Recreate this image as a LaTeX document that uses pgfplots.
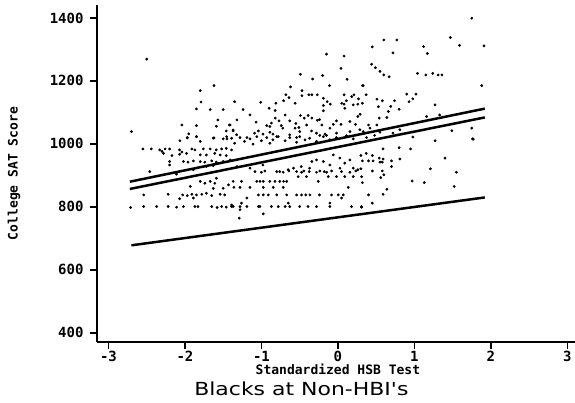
\documentclass[border=0pt]{standalone}
\usepackage{pgfplots}
\pgfplotsset{compat=1.18}
\usepackage{fontspec}
\setmainfont{DejaVu Sans}
\setmonofont{DejaVu Sans Mono}
\begin{document}
\begin{tikzpicture}
\begin{axis}[
  scale only axis, width=478pt, height=337pt,
  xmin=-3.15, xmax=3.10, ymin=371, ymax=1441,
  axis x line=bottom, axis y line=left,
  axis line style={line width=1.5pt, -},
  xtick={-3,-2,-1,0,1,2,3}, ytick={400,600,800,1000,1200,1400},
  tick align=outside, major tick length=7pt,
  tick style={line width=1.5pt, black},
  tick label style={font=\fontsize{14}{14}\selectfont\ttfamily\bfseries},
  /pgf/number format/assume math mode=true,
  /pgf/number format/1000 sep={},
  yticklabel style={xshift=-3pt},
  xticklabel style={yshift=1pt},
  xlabel={Standardized HSB Test},
  xlabel style={at={(axis description cs:0.504,-0.095)}, anchor=base, font=\fontsize{13}{13}\selectfont\ttfamily\bfseries},
  ylabel={College SAT Score},
  ylabel style={at={(axis description cs:-0.1736,0.5)}, anchor=center, font=\fontsize{13}{13}\selectfont\ttfamily\bfseries},
]
\addplot[only marks, mark=*, mark size=1.2pt, black] table {
x y
-2.50 1269
-2.70 1039
-1.62 1185
-1.80 1169
-1.79 1133
-1.85 1111
-1.67 1109
-1.50 1109
-1.57 1076
-2.04 1060
-1.85 1058
-1.59 1056
-1.42 1060
-1.46 1041
-1.37 1041
-1.95 1032
-1.85 1023
-1.97 1019
-1.62 1019
-1.45 1016
-0.15 1285
0.08 1279
0.04 1240
-0.49 1221
-0.33 1206
-0.20 1217
0.12 1205
-0.62 1181
-0.11 1185
0.33 1185
-0.47 1169
-0.68 1156
-0.47 1153
-0.38 1156
-0.34 1156
-0.27 1156
-0.64 1147
-0.56 1129
-0.71 1137
-0.19 1145
-0.14 1134
-0.10 1126
-0.19 1122
-0.19 1105
0.08 1156
0.18 1150
0.21 1156
0.27 1143
0.11 1137
0.08 1126
0.05 1129
0.09 1113
0.20 1124
0.26 1126
-1.35 1134
-1.24 1109
-1.01 1132
-0.90 1113
-0.81 1129
-0.82 1106
-0.49 1090
-0.44 1082
-0.39 1090
-0.34 1082
-0.27 1075
-0.24 1077
-1.07 1069
-0.82 1082
-0.77 1073
-0.87 1066
-0.89 1055
-0.93 1058
-0.74 1058
-0.72 1050
-0.55 1065
-0.51 1052
-0.56 1050
-0.06 1062
0.04 1062
0.23 1062
0.26 1087
0.29 1094
-1.41 1060
-1.37 1044
-1.04 1041
-1.09 1034
-0.98 1031
-0.89 1037
-0.85 1031
-0.80 1023
-0.345 1041
-0.28 1034
-0.236 1027
-0.17 1031
-0.15 1027
-1.325 1029
-1.19 1020
-0.63 1029
-0.54 1020
-0.50 1039
-0.018 1034
0.157 1039
0.287 1045
-1.15 1092
-1.32 1076
-0.69 1092
-0.63 1073
-0.41 1060
-0.21 1060
-0.105 1050
-0.018 1073
0.157 1071
1.75 1399
1.47 1338
1.59 1313
1.91 1311
0.60 1330
0.77 1330
0.45 1308
0.72 1289
1.12 1309
1.17 1287
0.44 1253
0.49 1242
0.55 1230
0.60 1219
0.67 1213
1.04 1224
1.15 1219
1.24 1224
1.31 1219
1.36 1219
1.88 1185
0.32 1185
0.37 1156
0.32 1129
0.51 1142
0.58 1137
0.53 1118
0.74 1137
0.69 1119
0.66 1103
0.80 1110
0.90 1158
1.02 1158
0.98 1143
0.93 1134
1.27 1124
1.16 1087
1.33 1092
0.54 1082
0.64 1084
0.40 1060
0.51 1060
1.49 1042
1.75 1050
0.98 1022
1.76 1016
0.33 1039
0.42 1050
0.375 1020
0.48 1027
0.72 1034
0.81 1045
0.55 1037
1.77 1015
1.27 1010
0.80 988
0.95 984
0.59 984
1.40 955
0.81 952
0.70 946
0.70 928
0.54 955
0.59 952
0.55 942
0.58 942
0.45 963
0.46 946
0.37 970
0.30 963
0.32 946
0.40 946
1.21 921
1.55 910
0.45 914
0.58 914
0.60 902
0.56 893
0.30 921
0.32 877
0.97 882
1.13 877
1.52 865
0.64 856
0.40 838
0.59 840
0.45 812
0.31 799
-2.065 1010
-1.97 1020
-1.85 1023
-1.80 1008
-1.63 1018
-1.50 1016
-1.455 1023
-2.55 984
-2.44 984
-2.33 981
-2.30 976
-2.26 984
-2.20 984
-2.07 981
-2.04 974
-1.91 984
-1.87 981
-1.76 984
-1.67 984
-1.59 981
-1.52 984
-1.46 986
-1.39 981
-2.28 970
-2.17 963
-2.07 967
-1.98 970
-1.80 965
-1.72 965
-1.61 970
-1.54 965
-1.46 963
-2.20 944
-2.02 944
-1.96 942
-1.89 946
-1.80 944
-1.74 942
-1.65 946
-1.59 942
-1.50 944
-1.41 949
-2.20 933
-1.72 928
-1.63 931
-2.46 912
-2.11 904
-1.89 918
-1.93 865
-1.80 881
-1.74 875
-1.67 881
-1.61 875
-1.59 891
-1.50 859
-1.63 859
-1.43 870
-2.54 838
-2.22 840
-2.03 838
-1.97 836
-1.91 840
-1.85 838
-1.78 840
-1.72 843
-1.65 836
-1.54 840
-1.48 838
-2.07 826
-1.89 828
-2.71 798
-2.54 801
-2.37 801
-2.22 801
-2.11 799
-2.02 801
-1.87 801
-1.83 801
-1.65 801
-1.58 798
-1.52 801
-1.46 799
-1.39 806
-1.39 1018
-1.35 1002
-1.28 1020
-1.22 1008
-1.15 1016
-1.11 999
-1.06 1023
-1.00 1010
-0.93 1020
-0.89 1002
-0.85 1013
-0.78 1023
-0.69 1010
-0.63 1020
-0.54 1005
-0.50 1023
-0.43 1013
-0.37 1018
-0.28 1008
-0.19 1023
-0.105 1013
-0.02 1020
0.11 1026
0.20 1016
-0.06 965
0.026 955
0.157 949
0.09 939
0.20 923
0.26 918
0.026 923
-0.105 933
-0.19 944
-0.28 949
-0.34 944
-0.37 923
-0.48 928
-0.58 923
-0.65 918
-0.76 912
-0.98 933
-1.15 923
-1.32 928
-1.085 912
-1.00 910
-0.955 914
-0.80 912
-0.715 910
-0.64 914
-0.54 912
-0.475 910
-0.445 914
-0.375 912
-0.28 910
-0.236 914
-0.18 912
-0.148 910
-0.083 914
0.048 912
0.157 910
0.235 914
-0.52 896
-0.41 896
-0.127 896
-0.018 896
0.09 896
0.20 896
0.31 896
-1.37 881
-1.26 881
-1.06 881
-1.02 881
-0.976 881
-0.89 881
-0.824 881
-0.76 881
-0.71 881
-0.67 881
-0.257 881
-1.36 862
-1.28 862
-1.15 862
-0.976 862
-0.846 862
-0.715 862
0.135 862
-1.04 838
-0.976 838
-0.91 838
-0.80 838
-0.67 838
-0.54 838
-0.475 838
-0.42 838
-0.366 838
-0.24 838
-0.083 838
0.004 838
0.07 838
-1.19 828
0.048 828
-1.26 812
-0.65 812
-0.105 812
-1.39 801
-1.37 801
-1.28 801
-1.19 801
-1.04 801
-1.02 801
-0.87 801
-0.78 801
-0.69 801
-0.63 801
-0.50 801
-0.39 801
-0.28 801
-0.105 801
0.178 801
0.309 801
-1.28 791
-1.29 764
-0.976 778
};
\addplot[black, line width=2.5pt] coordinates {(-2.72,880) (1.92,1112)};
\addplot[black, line width=2.5pt] coordinates {(-2.72,857) (1.92,1084)};
\addplot[black, line width=2.5pt] coordinates {(-2.70,678) (1.92,830)};
\end{axis}
\node[anchor=base west, xscale=1.22, font=\fontsize{18}{18}\selectfont] at (93pt,-53pt) {Blacks at Non-HBI\textquotesingle s};
\pgfresetboundingbox
\path (-97pt,-60pt) rectangle (478pt,342pt);
\end{tikzpicture}
\end{document}
